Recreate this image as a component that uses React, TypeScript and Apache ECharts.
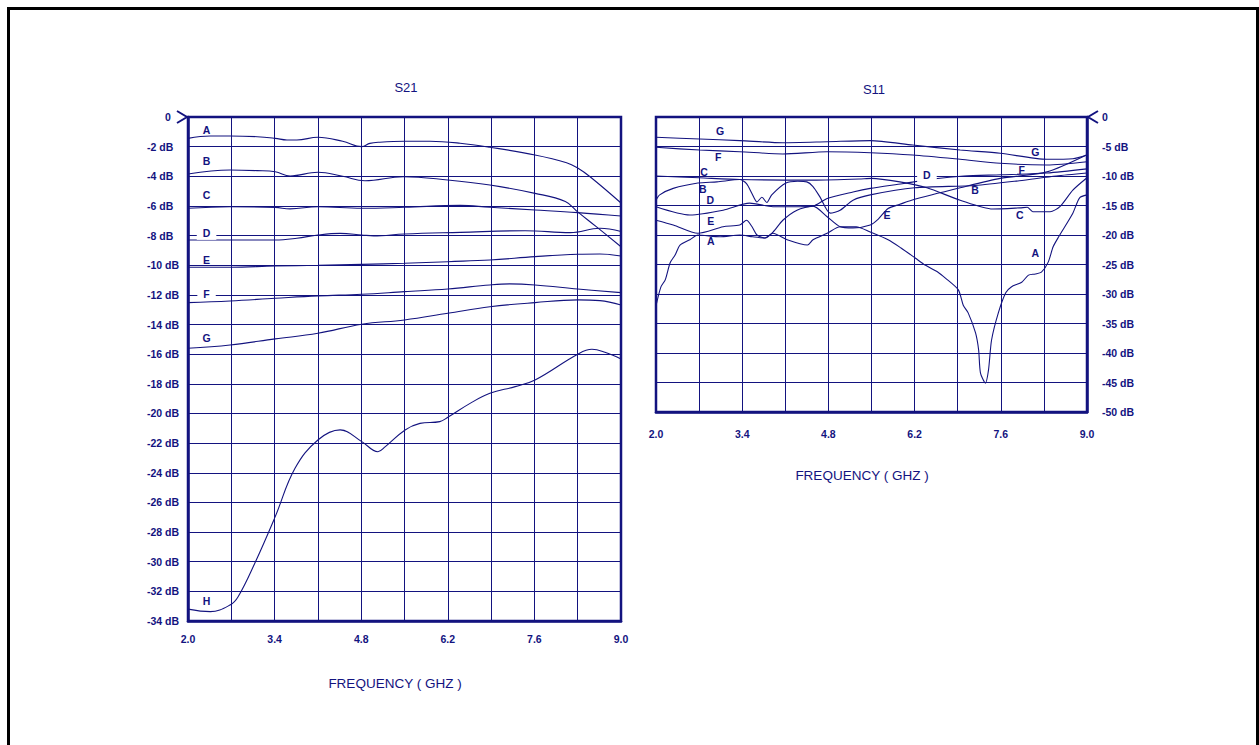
import React, { useEffect, useRef } from 'react';
import * as echarts from 'echarts';

type Pt = [number, number];

const NAVY = '#13137f';
const FONT = "'Liberation Sans', Arial, sans-serif";

const FREQ_MIN = 2.0;
const FREQ_MAX = 9.0;
const FREQ_STEP = 0.7;
const S21_MIN = -34;
const S21_STEP = 2;
const S11_MIN = -50;
const S11_STEP = 5;

// ---------- S21 traces (GHz, dB) ----------
const s21A: Pt[] = [[2.0,-1.44],[2.36,-1.28],[2.68,-1.28],[3.12,-1.33],[3.41,-1.44],[3.6,-1.55],[3.76,-1.55],[4.1,-1.37],[4.5,-1.64],[4.81,-2.0],[4.94,-1.78],[5.1,-1.7],[5.5,-1.64],[5.91,-1.64],[6.4,-1.77],[6.88,-2.04],[7.61,-2.56],[8.12,-3.08],[8.3,-3.44],[8.5,-4.03],[9.0,-5.8]];
const s21B: Pt[] = [[2.0,-3.85],[2.68,-3.58],[3.12,-3.62],[3.41,-3.69],[3.65,-3.98],[4.1,-3.73],[4.5,-4.0],[4.86,-4.3],[5.48,-4.03],[6.2,-4.25],[6.88,-4.59],[7.61,-5.15],[8.1,-5.7],[8.3,-6.4],[8.6,-7.4],[9.0,-8.75]];
const s21C: Pt[] = [[2.0,-6.16],[2.68,-6.05],[3.41,-6.1],[3.65,-6.2],[4.1,-6.05],[4.81,-6.16],[5.5,-6.09],[6.4,-5.96],[6.88,-6.09],[7.61,-6.27],[8.3,-6.45],[9.0,-6.68]];
const s21D: Pt[] = [[2.0,-8.3],[3.41,-8.3],[3.76,-8.18],[4.1,-7.96],[4.46,-7.85],[4.81,-7.96],[5.0,-8.02],[5.5,-7.89],[6.4,-7.78],[7.45,-7.67],[8.18,-7.8],[8.66,-7.51],[9.0,-7.73]];
const s21E: Pt[] = [[2.0,-10.14],[2.68,-10.14],[3.41,-10.05],[4.1,-10.0],[4.81,-9.94],[5.5,-9.87],[6.2,-9.76],[6.88,-9.65],[7.61,-9.42],[8.3,-9.26],[8.66,-9.24],[9.0,-9.38]];
const s21F: Pt[] = [[2.0,-12.52],[2.68,-12.41],[3.41,-12.23],[4.1,-12.07],[4.81,-11.96],[5.5,-11.78],[6.2,-11.6],[6.88,-11.33],[7.2,-11.26],[7.61,-11.33],[8.3,-11.6],[9.0,-11.85]];
const s21G: Pt[] = [[2.0,-15.6],[2.68,-15.38],[3.41,-14.97],[4.1,-14.59],[4.81,-13.98],[5.5,-13.69],[6.2,-13.24],[6.88,-12.8],[7.61,-12.52],[8.3,-12.34],[8.66,-12.39],[9.0,-12.68]];
const s21H: Pt[] = [[2.0,-33.2],[2.36,-33.37],[2.68,-32.92],[2.81,-32.36],[3.08,-30.1],[3.41,-26.96],[3.73,-23.7],[4.1,-21.79],[4.46,-21.11],[4.81,-21.9],[5.07,-22.58],[5.19,-22.24],[5.51,-21.11],[5.75,-20.67],[6.07,-20.55],[6.2,-20.26],[6.56,-19.32],[6.88,-18.64],[7.29,-18.19],[7.61,-17.74],[8.3,-16.0],[8.53,-15.67],[8.74,-15.87],[9.0,-16.32]];

// trace tags on S21: [GHz, dB, tag, breaksGridLine]
const s21Tags: [number, number, string, number][] = [
  [2.3,-0.88,'A',0],[2.3,-2.95,'B',0],[2.3,-5.26,'C',0],[2.3,-7.85,'D',1],
  [2.3,-9.65,'E',0],[2.3,-11.94,'F',1],[2.3,-14.93,'G',0],[2.3,-32.63,'H',0],
];

// ---------- S11 traces (GHz, dB) ----------
const s11A: Pt[] = [[2.0,-32.0],[2.08,-28.8],[2.15,-27.6],[2.23,-24.7],[2.31,-23.4],[2.39,-21.7],[2.55,-20.8],[2.68,-20.0],[3.04,-20.3],[3.36,-20.0],[3.57,-20.3],[3.77,-20.5],[3.9,-19.7],[4.13,-20.8],[4.46,-21.7],[4.55,-20.8],[4.78,-19.7],[4.99,-18.6],[5.25,-18.6],[5.48,-19.5],[5.77,-20.8],[5.98,-22.2],[6.21,-23.9],[6.37,-25.1],[6.58,-26.3],[6.7,-27.3],[6.91,-29.3],[6.99,-31.9],[7.07,-33.2],[7.19,-36.6],[7.24,-39.5],[7.27,-43.4],[7.35,-45.1],[7.4,-42.9],[7.45,-37.8],[7.56,-33.2],[7.68,-29.8],[7.77,-28.8],[7.94,-28.0],[8.05,-26.8],[8.16,-26.6],[8.26,-26.3],[8.37,-24.6],[8.45,-22.0],[8.54,-20.3],[8.77,-16.3],[8.88,-13.7],[9.0,-13.2]];
const s11B: Pt[] = [[2.0,-14.1],[2.06,-13.2],[2.28,-12.1],[2.68,-11.2],[2.99,-11.0],[3.36,-10.6],[3.47,-11.3],[3.56,-13.0],[3.64,-14.4],[3.72,-13.6],[3.8,-14.5],[3.88,-13.2],[4.11,-11.2],[4.3,-10.9],[4.45,-11.0],[4.55,-11.8],[4.66,-13.5],[4.83,-16.3],[4.99,-15.8],[5.2,-14.1],[5.48,-13.2],[6.2,-12.0],[7.18,-11.6],[7.9,-10.8],[8.5,-10.0],[9.0,-9.5]];
const s11C: Pt[] = [[2.0,-10.0],[2.7,-10.3],[3.36,-10.6],[4.5,-10.7],[5.3,-10.5],[5.5,-10.4],[5.96,-11.0],[6.4,-12.0],[6.94,-14.1],[7.47,-15.6],[7.91,-15.4],[8.03,-15.3],[8.12,-16.05],[8.4,-16.05],[8.56,-15.2],[8.77,-12.4],[9.0,-10.3]];
const s11D: Pt[] = [[2.0,-15.2],[2.55,-16.6],[3.09,-15.8],[3.52,-14.6],[3.9,-15.2],[4.34,-15.2],[4.55,-15.1],[4.78,-13.8],[5.2,-12.7],[5.48,-12.1],[6.0,-11.3],[6.5,-10.5],[7.0,-10.0],[7.6,-9.8],[8.35,-9.5],[9.0,-8.8]];
const s11E: Pt[] = [[2.0,-17.5],[2.28,-18.3],[2.68,-19.7],[3.09,-18.6],[3.36,-18.3],[3.47,-17.5],[3.56,-18.6],[3.64,-20.0],[3.77,-20.5],[3.9,-19.5],[4.06,-17.5],[4.29,-15.8],[4.55,-15.1],[4.78,-16.9],[4.99,-18.6],[5.2,-18.8],[5.48,-18.3],[5.61,-17.3],[5.77,-15.5],[5.96,-14.8],[6.15,-14.1],[6.94,-12.0],[7.59,-10.4],[8.35,-9.3],[9.0,-6.4]];
const s11F: Pt[] = [[2.0,-5.14],[2.71,-5.6],[3.36,-5.88],[4.06,-6.27],[4.78,-5.88],[5.48,-6.05],[6.17,-6.44],[6.94,-7.17],[7.59,-7.85],[8.35,-8.14],[9.0,-7.58]];
const s11G: Pt[] = [[2.0,-3.44],[2.71,-3.73],[3.36,-4.0],[4.06,-4.36],[4.78,-4.19],[5.48,-4.0],[6.17,-4.75],[6.94,-5.6],[7.59,-6.15],[8.35,-7.17],[8.77,-7.07],[9.0,-6.44]];

const s11Tags: [number, number, string, number][] = [
  [3.04,-2.37,'G',0],[8.16,-5.93,'G',0],[3.01,-6.78,'F',0],[7.94,-8.98,'F',0],
  [2.78,-9.32,'C',0],[7.91,-16.6,'C',0],[6.4,-9.9,'D',1],[2.88,-14.07,'D',0],
  [2.76,-12.2,'B',0],[7.18,-12.37,'B',0],[2.89,-17.6,'E',0],[5.75,-16.6,'E',0],
  [2.89,-21.0,'A',0],[8.16,-23.05,'A',0],
];

const s21Traces: [string, Pt[]][] = [['A',s21A],['B',s21B],['C',s21C],['D',s21D],['E',s21E],['F',s21F],['G',s21G],['H',s21H]];
const s11Traces: [string, Pt[]][] = [['A',s11A],['B',s11B],['C',s11C],['D',s11D],['E',s11E],['F',s11F],['G',s11G]];

const tickLabel = { color: NAVY, fontFamily: FONT, fontWeight: 'bold' as const, fontSize: 10.5 };

function freqAxis(gridIndex: number, margin: number) {
  return {
    type: 'value', gridIndex, min: FREQ_MIN, max: FREQ_MAX, interval: FREQ_STEP,
    axisLine: { show: true, onZero: false, lineStyle: { color: NAVY, width: 2.5 } },
    axisTick: { show: false },
    axisLabel: {
      ...tickLabel, margin, showMinLabel: true, showMaxLabel: true,
      formatter: (v: number) => {
        const i = Math.round((v - FREQ_MIN) / FREQ_STEP);
        return i % 2 === 0 ? v.toFixed(1) : '';
      },
    },
    splitLine: { show: true, lineStyle: { color: NAVY, width: 1 } },
  };
}

function lineSeries(name: string, data: Pt[], idx: number, smooth: number) {
  return {
    type: 'line', name, xAxisIndex: idx, yAxisIndex: idx, data,
    smooth, showSymbol: false, symbol: 'none', silent: true,
    lineStyle: { color: NAVY, width: 1.1 }, z: 3,
  };
}

const tagText = {
  color: NAVY, fontFamily: FONT, fontWeight: 700, fontSize: 10.5,
  textBorderWidth: 0, textBorderColor: 'transparent', opacity: 1,
};

function tagSeries(tags: [number, number, string, number][], idx: number) {
  return {
    type: 'scatter', xAxisIndex: idx, yAxisIndex: idx, symbolSize: 0, silent: true, z: 5,
    data: tags.map((t) => ({
      value: t,
      label: t[3]
        ? { show: true, ...tagText, backgroundColor: '#ffffff', padding: [1, 6, 1, 6] }
        : { show: true, ...tagText },
    })),
    label: {
      show: true, position: 'inside', ...tagText,
      formatter: (p: any) => p.value[2],
    },
  };
}

export default function App() {
  const ref = useRef<HTMLDivElement>(null);
  useEffect(() => {
    if (!ref.current) return;
    const chart = echarts.init(ref.current, undefined, { renderer: 'svg' });
    const option: any = {
      animation: false,
      backgroundColor: '#ffffff',
      grid: [
        { left: 188, top: 117, width: 433, height: 504, show: true, borderColor: NAVY, borderWidth: 2.5, backgroundColor: 'transparent' },
        { left: 656, top: 117, width: 431, height: 295, show: true, borderColor: NAVY, borderWidth: 2.5, backgroundColor: 'transparent' },
      ],
      xAxis: [freqAxis(0, 12), freqAxis(1, 16)],
      yAxis: [
        {
          type: 'value', gridIndex: 0, min: S21_MIN, max: 0, interval: S21_STEP,
          axisLine: { show: true, onZero: false, lineStyle: { color: NAVY, width: 2.5 } },
          axisTick: { show: false },
          axisLabel: {
            ...tickLabel, align: 'left', margin: 41,
            formatter: (v: number) => (v === 0 ? '{z|0}' : `${v} dB`),
            rich: { z: { color: NAVY, fontFamily: FONT, fontWeight: 'bold', fontSize: 10.5, padding: [0, 0, 0, 18] } },
          },
          splitLine: { show: true, lineStyle: { color: NAVY, width: 1 } },
        },
        {
          type: 'value', gridIndex: 1, position: 'right', min: S11_MIN, max: 0, interval: S11_STEP,
          axisLine: { show: true, onZero: false, lineStyle: { color: NAVY, width: 2.5 } },
          axisTick: { show: false },
          axisLabel: {
            ...tickLabel, align: 'left', margin: 15,
            formatter: (v: number) => (v === 0 ? '0' : `${v} dB`),
          },
          splitLine: { show: true, lineStyle: { color: NAVY, width: 1 } },
        },
      ],
      series: [
        ...s21Traces.map(([n, d]) => lineSeries('S21 ' + n, d, 0, 0.4)),
        ...s11Traces.map(([n, d]) => lineSeries('S11 ' + n, d, 1, 0.25)),
        tagSeries(s21Tags, 0),
        tagSeries(s11Tags, 1),
      ],
      graphic: [
        { type: 'rect', shape: { x: 8.5, y: 8.5, width: 1249, height: 760 }, style: { fill: 'none', stroke: '#000', lineWidth: 3 }, silent: true },
        { type: 'text', x: 406, y: 87, style: { text: 'S21', fill: NAVY, font: `13px ${FONT}`, align: 'center', verticalAlign: 'middle' } },
        { type: 'text', x: 874, y: 89, style: { text: 'S11', fill: NAVY, font: `13px ${FONT}`, align: 'center', verticalAlign: 'middle' } },
        { type: 'text', x: 395, y: 683, style: { text: 'FREQUENCY ( GHZ )', fill: NAVY, font: `13.5px ${FONT}`, align: 'center', verticalAlign: 'middle' } },
        { type: 'text', x: 862, y: 475, style: { text: 'FREQUENCY ( GHZ )', fill: NAVY, font: `13.5px ${FONT}`, align: 'center', verticalAlign: 'middle' } },
        { type: 'polyline', shape: { points: [[177, 111], [187, 117], [177, 123]] }, style: { stroke: NAVY, lineWidth: 2, fill: 'none' } },
        { type: 'polyline', shape: { points: [[1098, 111], [1088, 117], [1098, 123]] }, style: { stroke: NAVY, lineWidth: 2, fill: 'none' } },
      ],
    };
    chart.setOption(option);
    return () => chart.dispose();
  }, []);
  return <div ref={ref} style={{ position: 'fixed', left: 0, top: 0, width: 1259, height: 745, background: '#fff' }} />;
}
